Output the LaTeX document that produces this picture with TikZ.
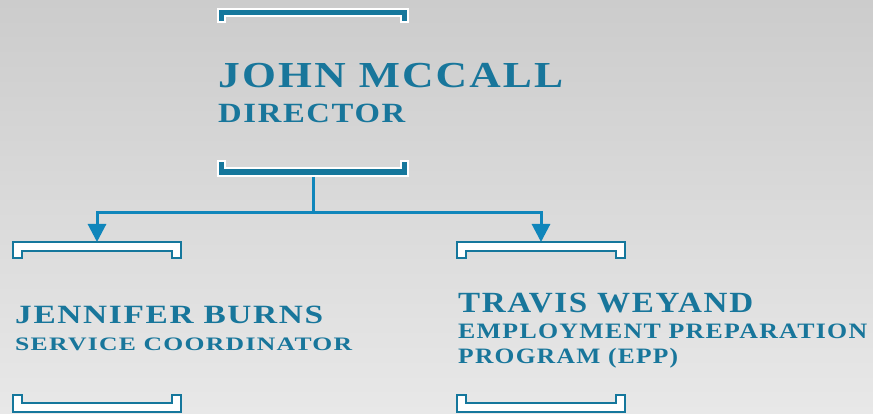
\documentclass[tikz,border=0pt]{standalone}
\usepackage{fontspec}
\usetikzlibrary{arrows.meta}
\newfontfamily\eng[LetterSpace=5]{Liberation Serif}
\definecolor{bgtop}{RGB}{204,204,204}
\definecolor{bgbot}{RGB}{232,232,232}
\definecolor{brk}{RGB}{21,119,156}
\definecolor{txt}{RGB}{24,118,155}
\definecolor{conn}{RGB}{16,134,187}
\newcommand\fitt[3]{\resizebox{#1pt}{#2pt}{\vphantom{H}\smash{\eng\bfseries #3}}}
\tikzset{
  bigbrk/.style={fill=brk, draw=white, line width=1.8pt},
  smallbrk/.style={fill=white, draw=brk, line width=2.6pt},
  connline/.style={draw=conn, line width=3pt},
  lbl/.style={anchor=base west, inner sep=0pt, text=txt},
}
\begin{document}
\begin{tikzpicture}[x=1pt,y=-1pt]
\useasboundingbox (0,0) rectangle (873,414);
\shade[top color=bgtop, bottom color=bgbot] (0,0) rectangle (873,414);
% director brackets
\draw[bigbrk] (218,9) -- (408,9) -- (408,22) -- (401,22) -- (401,16) -- (225,16) -- (225,22) -- (218,22) -- cycle;
\draw[bigbrk] (218,161) -- (225,161) -- (225,168) -- (401,168) -- (401,161) -- (408,161) -- (408,176) -- (218,176) -- cycle;
% child brackets
\draw[smallbrk] (13,242) -- (181,242) -- (181,258) -- (172,258) -- (172,251) -- (22,251) -- (22,258) -- (13,258) -- cycle;
\draw[smallbrk] (13,395) -- (22,395) -- (22,403) -- (172,403) -- (172,395) -- (181,395) -- (181,412) -- (13,412) -- cycle;
\draw[smallbrk] (457,242) -- (625,242) -- (625,258) -- (616,258) -- (616,251) -- (466,251) -- (466,258) -- (457,258) -- cycle;
\draw[smallbrk] (457,395) -- (466,395) -- (466,403) -- (616,403) -- (616,395) -- (625,395) -- (625,412) -- (457,412) -- cycle;
% texts
\node[lbl] (jm) at (218,88) {\fitt{345}{25}{JOHN MCCALL}};
\node[lbl] (dir) at (218,123) {\fitt{187}{19}{DIRECTOR}};
\node[lbl] (jb) at (15,323) {\fitt{308}{18}{JENNIFER BURNS}};
\node[lbl] (sc) at (15,350) {\fitt{337}{13}{SERVICE COORDINATOR}};
\node[lbl] (tw) at (458,312) {\fitt{295}{20}{TRAVIS WEYAND}};
\node[lbl] (ep) at (458,338) {\fitt{409}{15}{EMPLOYMENT PREPARATION}};
\node[lbl] (pe) at (458,363) {\fitt{220}{15}{PROGRAM (EPP)}};
% connectors
\coordinate (dirb) at (313,177);
\coordinate (junc) at (313,213);
\coordinate (jtop) at (97,242);
\coordinate (ttop) at (541,242);
\draw[connline] (dirb) -- (junc);
\draw[connline, -{Triangle[width=18pt,length=18pt]}] (junc) -| (jtop);
\draw[connline, -{Triangle[width=18pt,length=18pt]}] (junc) -| (ttop);
\end{tikzpicture}
\end{document}
